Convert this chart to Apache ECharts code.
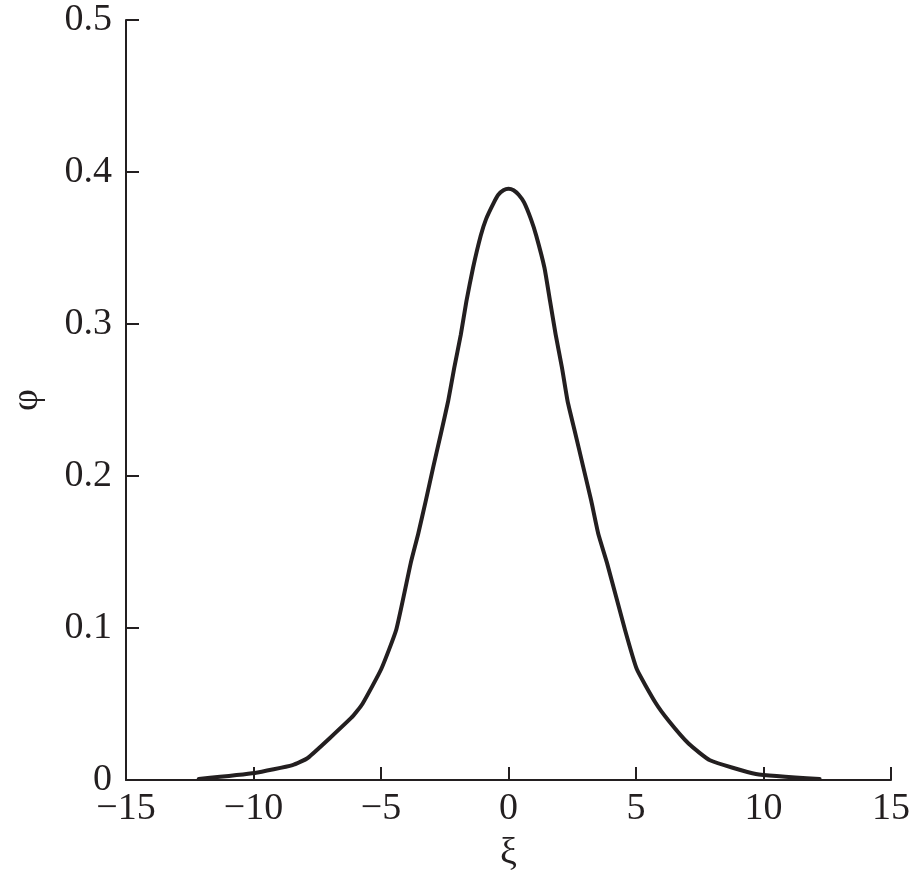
<!DOCTYPE html>
<html>
<head>
<meta charset="utf-8">
<script src="https://cdn.jsdelivr.net/npm/echarts@6/dist/echarts.min.js"></script>
<style>
  html, body { margin: 0; padding: 0; background: #ffffff; }
  #chart { width: 913px; height: 878px; }
</style>
</head>
<body>
<div id="chart"></div>
<script>
// Values
const xi = [-12.15, -9.95, -8.47, -7.88, -6.16, -5.73, -4.99, -4.40, -3.83, -3.54, -3.24, -2.95, -2.65, -2.37, -2.13, -1.87, -1.65, -1.39, -1.09, -0.88, -0.57, -0.40, -0.20, 0, 0.20, 0.40, 0.61, 0.88, 1.09, 1.41, 1.63, 1.85, 2.10, 2.32, 2.62, 2.93, 3.24, 3.52, 3.86, 4.56, 5.03, 5.76, 6.28, 7.06, 7.90, 9.70, 12.20];
const phi = [0.0007, 0.0046, 0.0098, 0.0144, 0.041, 0.050, 0.073, 0.099, 0.143, 0.162, 0.184, 0.206, 0.228, 0.249, 0.271, 0.293, 0.315, 0.337, 0.358, 0.369, 0.380, 0.385, 0.388, 0.389, 0.388, 0.385, 0.380, 0.369, 0.358, 0.337, 0.315, 0.293, 0.271, 0.249, 0.228, 0.206, 0.184, 0.162, 0.143, 0.0993, 0.073, 0.051, 0.039, 0.024, 0.013, 0.004, 0.0007];
const xTicks = [-15, -10, -5, 0, 5, 10, 15];
const yTicks = [0, 0.1, 0.2, 0.3, 0.4, 0.5];
const xName = 'ξ';
const yName = 'φ';

const ink = '#231f20';
const font = 'Liberation Serif';
const data = xi.map((x, i) => [x, phi[i]]);

const chart = echarts.init(document.getElementById('chart'), null, { renderer: 'canvas' });
chart.setOption({
  animation: false,
  backgroundColor: '#ffffff',
  grid: { left: 126, right: 20, top: 20, bottom: 93, containLabel: false },
  xAxis: {
    type: 'value',
    min: xTicks[0], max: xTicks[xTicks.length - 1], interval: 5,
    name: xName, nameLocation: 'middle', nameGap: 55,
    nameTextStyle: { fontFamily: font, fontSize: 38, color: ink },
    axisLine: { show: true, onZero: false, lineStyle: { color: ink, width: 2 } },
    axisTick: { show: true, inside: true, length: 13, lineStyle: { color: ink, width: 2 } },
    axisLabel: { fontFamily: font, fontSize: 38, color: ink, margin: 10,
      formatter: v => String(v).replace('-', '\u2212') },
    splitLine: { show: false }
  },
  yAxis: {
    type: 'value',
    min: yTicks[0], max: yTicks[yTicks.length - 1], interval: 0.1,
    name: yName, nameLocation: 'middle', nameGap: 80,
    nameTextStyle: { fontFamily: font, fontSize: 38, color: ink },
    axisLine: { show: true, onZero: false, lineStyle: { color: ink, width: 2 } },
    axisTick: { show: true, inside: true, length: 13, lineStyle: { color: ink, width: 2 } },
    axisLabel: { fontFamily: font, fontSize: 38, color: ink, margin: 14,
      formatter: v => String(Math.round(v * 10) / 10) },
    splitLine: { show: false }
  },
  series: [{
    type: 'line',
    data: data,
    showSymbol: false,
    smooth: 0.15,
    lineStyle: { color: ink, width: 4, join: 'round', cap: 'round' }
  }]
});
</script>
</body>
</html>
